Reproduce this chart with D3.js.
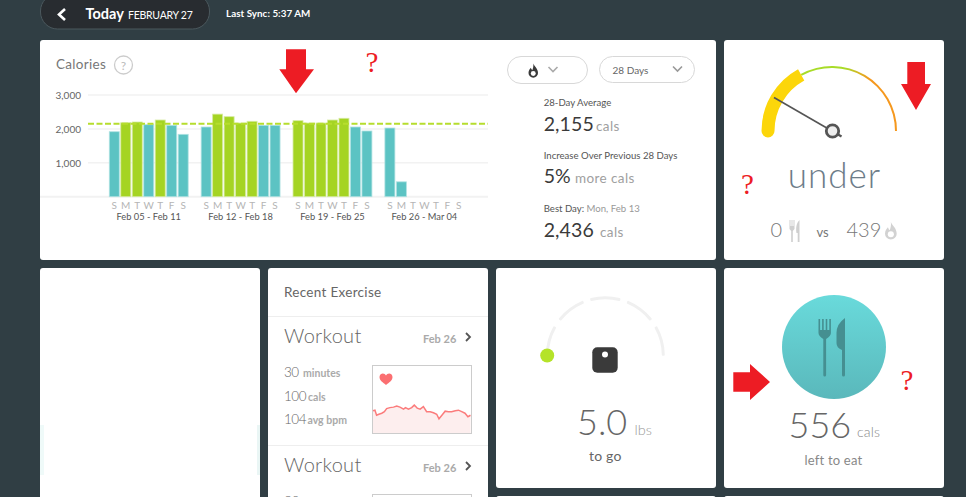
<!DOCTYPE html>
<html><head><meta charset="utf-8">
<script src="https://cdn.jsdelivr.net/npm/d3@7"></script>
<style>
html,body{margin:0;padding:0;background:#303e44;overflow:hidden}
svg{display:block}
text{font-family:Lato,"Open Sans",sans-serif}
</style></head><body>
<svg id="c" width="966" height="497"></svg>
<script>
// ---------- data ----------
const weekLabels = ["Feb 05 - Feb 11","Feb 12 - Feb 18","Feb 19 - Feb 25","Feb 26 - Mar 04"];
const dayLetters = ["S","M","T","W","T","F","S"];
const week1 = [1917,2183,2203,2124,2262,2105,1840];
const week2 = [2056,2436,2360,2174,2224,2105,2105];
const week3 = [2242,2174,2174,2262,2313,2056,1938];
const week4 = [2026,439];
const calorieWeeks = [week1,week2,week3,week4];
const averageCalories = 2155;
const yTicks = [0,1000,2000,3000];
const hrMinutes = [0,0.6,1.1,1.8,2.7,3.5,4.2,5.2,6.3,7.3,8.3,9.4,10,10.9,11.9,12.7,13.6,14.5,15.5,16.5,17.6,18.6,19.6,20.3,21.2,22.2,23.2,24.2,25.3,26.3,27.3,28.3,29.2,30];
const hrBpm = [104,105,95,97,99,102,108,110,111,113,111,107,110,107,110,115,109,107,112,102,102,100,97,88,95,103,102,102,104,105,102,99,92,95];
const gaugeUnder = 0.34, gaugeNeedle = 0.1667;
const weightSegments = [[-90,-60],[-52,-22],[-15,15],[22,52],[60,90]];

const svg = d3.select("#c");
const RED="#ed1c24";
function T(x,y,s,size,color,opt={}){
  const t=svg.append("text").attr("x",x).attr("y",y).text(s)
    .attr("font-size",size).attr("fill",color)
    .attr("font-weight",opt.w||400).attr("text-anchor",opt.a||"start");
  if(opt.ls!=null)t.attr("letter-spacing",opt.ls);
  if(opt.f)t.style("font-family",opt.f);
  return t;
}
const defs=svg.append("defs");
const pg=defs.append("linearGradient").attr("id","plate").attr("x1",0).attr("x2",0).attr("y1",0).attr("y2",1);
pg.append("stop").attr("offset","0").attr("stop-color","#69dadb");
pg.append("stop").attr("offset","1").attr("stop-color","#5ab8bb");
const gg=defs.append("linearGradient").attr("id","gg").attr("gradientUnits","userSpaceOnUse").attr("x1",-30).attr("x2",64).attr("y1",0).attr("y2",0);
gg.append("stop").attr("offset","0.45").attr("stop-color","#a8dc28");
gg.append("stop").attr("offset","0.72").attr("stop-color","#f5981e");

// ---------- cards ----------
[[40,40,676,220],[724,40,220,220],[40,268,220,240],[268,268,220,240],[496,268,220,220],[724,268,220,220],[496,496,220,20],[724,496,220,20]]
 .forEach(([x,y,w,h])=>svg.append("rect").attr("x",x).attr("y",y).attr("width",w).attr("height",h).attr("rx",3).attr("fill","#fff"));
svg.append("rect").attr("x",40).attr("y",425).attr("width",4).attr("height",50).attr("fill","#effaf9");
svg.append("rect").attr("x",257).attr("y",425).attr("width",3).attr("height",50).attr("fill","#eaf6f5");

// ---------- header ----------
svg.append("rect").attr("x",40.5).attr("y",-6).attr("width",169).attr("height",35).attr("rx",17).attr("fill","#282c30").attr("stroke","#4b585d");
svg.append("path").attr("d","M65,9 L59,14.5 L65,20").attr("fill","none").attr("stroke","#fff").attr("stroke-width",2.6);
T(85.5,19,"Today",14.5,"#fff",{w:700});
T(128,19,"FEBRUARY 27",10.5,"#fff",{ls:-0.25});
T(226,17,"Last Sync: 5:37 AM",9.8,"#fff",{w:700,ls:0.05});

// ---------- calories chart ----------
T(56,69,"Calories",13.5,"#777",{ls:0.3});
svg.append("circle").attr("cx",123.5).attr("cy",65).attr("r",9).attr("fill","none").attr("stroke","#ccc").attr("stroke-width",1.3);
T(123.5,69.5,"?",12,"#bbb",{a:"middle"});

const y=d3.scaleLinear().domain([0,3000]).range([196.7,95]);
const slots=d3.range(31);
const x=d3.scaleBand().domain(slots).range([108.6,108.6+31*11.48]).paddingInner(0.13).paddingOuter(0.06);
const slotOf=(w,d)=>w*8+d;

const yAxis=d3.axisLeft(y).tickValues(yTicks).tickSize(0).tickFormat(d=>d?d3.format(",")(d):"");
const gy=svg.append("g").attr("transform","translate(81,0)").call(yAxis);
gy.select(".domain").remove();
gy.selectAll("text").attr("x",0).attr("dy","0.36em").attr("font-size",10).attr("fill","#666").style("font-family","Lato");
svg.append("g").selectAll("line").data(yTicks).join("line")
 .attr("x1",d=>d===0?40:88).attr("x2",488).attr("y1",d=>y(d)).attr("y2",d=>y(d))
 .attr("stroke","#f2f2f2").attr("stroke-width",d=>d===0?2:1.5);

const bars=calorieWeeks.flatMap((vals,w)=>vals.map((v,d)=>({w,d,v})));
svg.append("g").selectAll("rect").data(bars).join("rect")
 .attr("x",d=>x(slotOf(d.w,d.d))).attr("width",x.bandwidth())
 .attr("y",d=>y(d.v)).attr("height",d=>y(0)-y(d.v))
 .attr("fill",d=>d.v>=averageCalories?"#a5d423":"#5cc3c3")
 .attr("stroke",d=>d.v>=averageCalories?"#d5eaa0":"#b0e2e2").attr("stroke-width",0.8);

svg.append("line").attr("x1",88).attr("x2",488).attr("y1",y(averageCalories)).attr("y2",y(averageCalories))
 .attr("stroke","#b6dd2e").attr("stroke-width",2).attr("stroke-dasharray","6 2.5");

weekLabels.forEach((lab,w)=>{
  dayLetters.forEach((l,d)=>{
    T(x(slotOf(w,d))+x.bandwidth()/2,208.5,l,10,"#b5b5b5",{a:"middle"});
  });
  T(x(slotOf(w,3))+x.bandwidth()/2,219.5,lab,9.3,"#555",{a:"middle"});
});

// ---------- dropdowns ----------
const pill=(x0,y0,w,h)=>svg.append("rect").attr("x",x0).attr("y",y0).attr("width",w).attr("height",h).attr("rx",h/2).attr("fill","#fff").attr("stroke","#d8d8d8");
pill(507.5,56.5,80,27); pill(599.5,56.5,95,26);
const chev=(cx,cy,col)=>svg.append("path").attr("d",`M${cx-4.5},${cy-2.5} L${cx},${cy+2} L${cx+4.5},${cy-2.5}`).attr("fill","none").attr("stroke",col).attr("stroke-width",1.6);
chev(553,69.5,"#aaa"); chev(677.5,69,"#999");
const flame="M5,0 C6,3 10,5 10,10 A5,5 0 0 1 0,10 C0,7 1.5,6 2.5,4.5 C3,6 3.4,6.5 4,7 C4.8,5 5.4,3 5,0 Z";
function flameIcon(tx,ty,s,col){
  const g=svg.append("g").attr("transform",`translate(${tx},${ty}) scale(${s})`);
  g.append("path").attr("d",flame).attr("fill",col);
  g.append("circle").attr("cx",5).attr("cy",10.5).attr("r",2.6).attr("fill","#fff");
}
flameIcon(528.5,63.5,0.95,"#3a3a3a");
T(612.5,74,"28 Days",10,"#666");

// ---------- stats ----------
function stat(lbl,lbl2,big,unit,yl,yb,ux){
  const t=T(543.7,yl,lbl,9.6,"#555");
  if(lbl2)t.append("tspan").attr("fill","#999").text(lbl2);
  T(543.7,yb,big,19.5,"#3a3a3a",{w:400,ls:0.1});
  T(ux,yb,unit,13.5,"#a0a0a0",{ls:0.4});
}
stat("28-Day Average","","2,155","cals",106,130.5,596);
stat("Increase Over Previous 28 Days","","5%","more cals",158.5,183,575);
stat("Best Day: ","Mon, Feb 13","2,436","cals",211.5,236.5,600);

// ---------- calorie gauge ----------
const gcx=832,gcy=131,gr=64;
const ga=d3.scaleLinear().domain([0,1]).range([-Math.PI/2,Math.PI/2]);
const thin=d3.arc().innerRadius(gr-1).outerRadius(gr+1);
svg.append("path").attr("transform",`translate(${gcx},${gcy})`).attr("fill","url(#gg)")
 .attr("d",thin({startAngle:ga(gaugeUnder),endAngle:ga(1)}));
const centre=d3.arc().innerRadius(gr).outerRadius(gr);
const yellowD=centre({startAngle:ga(0),endAngle:ga(gaugeUnder)}).split("L")[0].replace(/Z$/,"");
svg.append("path").attr("transform",`translate(${gcx},${gcy})`).attr("fill","none").attr("stroke","#fcd60a")
 .attr("stroke-width",13).attr("stroke-linecap","round").attr("d",yellowD);
const nA=ga(gaugeNeedle);
svg.append("line").attr("x1",gcx).attr("y1",gcy).attr("x2",gcx+67*Math.sin(nA)).attr("y2",gcy-67*Math.cos(nA)).attr("stroke","#555").attr("stroke-width",1.6);
svg.append("line").attr("x1",gcx).attr("y1",gcy).attr("x2",gcx+11*Math.sin(nA+Math.PI)).attr("y2",gcy-11*Math.cos(nA+Math.PI)).attr("stroke","#555").attr("stroke-width",2.4);
svg.append("circle").attr("cx",gcx+0.5).attr("cy",gcy).attr("r",6.2).attr("fill","#eee").attr("stroke","#555").attr("stroke-width",2.8);

T(834.5,188,"under",35,"#6d7c88",{a:"middle",w:300,ls:1});
T(770.5,237,"0",20,"#777",{w:300});
const forkSmall=(x0,y0,col)=>{
  const g=svg.append("g").attr("fill",col);
  g.append("path").attr("d",`M${x0},${y0} h1 v6 h1 v-6 h1 v6 h1 v-6 h1 v9 l-1.7,2 v11 h-1.6 v-11 l-1.7,-2 Z`);
  g.append("path").attr("d",`M${x0+10},${y0} v22 h-1.8 v-9 h-1.2 c-1,-5 0,-10 3,-13 Z`);
};
forkSmall(789.5,220,"#cfcfcf");
T(816.5,237,"vs",13,"#777");
T(846.5,237,"439",20,"#777",{w:300});
flameIcon(885,222,1.17,"#d2d2d2");

// ---------- recent exercise ----------
T(284,296.5,"Recent Exercise",13.5,"#666",{ls:0.3});
const rule=yy=>svg.append("line").attr("x1",268).attr("x2",488).attr("y1",yy).attr("y2",yy).attr("stroke","#eee");
rule(316.5); rule(445.5);
[342.5,471.5].forEach(b=>{
  T(284,b,"Workout",20,"#666",{w:300,ls:0.3});
  T(423,b,"Feb 26",11,"#aaa",{w:700});
  svg.append("path").attr("d",`M466,${b-9.5} L470,${b-5.5} L466,${b-1.5}`).attr("fill","none").attr("stroke","#555").attr("stroke-width",1.8);
});
[[376.5,"30","minutes",303],[400.5,"100","cals",308],[423.5,"104","avg bpm",307.5]].forEach(([b,n,u,ux])=>{
  T(284,b,n,13.5,"#666",{w:300,ls:-0.5});
  T(ux,b,u,10.5,"#aaa",{w:700});
});
const bx=372.5,bw=99,by=365.5,bh=68;
svg.append("rect").attr("x",bx).attr("y",by).attr("width",bw).attr("height",bh).attr("fill","#fff").attr("stroke","#ccc");
const hx=d3.scaleLinear().domain([0,30]).range([373,470.5]);
const hy=d3.scaleLinear().domain([60,194]).range([433,365]);
svg.append("path").attr("d",d3.area().x((d,i)=>hx(hrMinutes[i])).y0(hy(60)).y1(d=>hy(d))(hrBpm)).attr("fill","#fdeeee");
svg.append("path").attr("d",d3.line().x((d,i)=>hx(hrMinutes[i])).y(d=>hy(d))(hrBpm)).attr("fill","none").attr("stroke","#fb7c7c").attr("stroke-width",1.5);
svg.append("path").attr("transform","translate(386,379)").attr("fill","#fb6f71")
 .attr("d","M0,6 C-3,3.5 -6.5,1.5 -6.5,-2 C-6.5,-4.5 -4.5,-5.5 -3.2,-5.5 C-1.8,-5.5 -0.6,-4.6 0,-3.5 C0.6,-4.6 1.8,-5.5 3.2,-5.5 C4.5,-5.5 6.5,-4.5 6.5,-2 C6.5,1.5 3,3.5 0,6 Z");
T(284,505.5,"30",13.5,"#666",{w:300});
svg.append("rect").attr("x",bx).attr("y",494.5).attr("width",bw).attr("height",30).attr("fill","#fff").attr("stroke","#ccc");

// ---------- weight ----------
const wcx=605.3,wcy=355.7,wr=58;
const rad=d3.scaleLinear().domain([0,180]).range([0,Math.PI]);
svg.append("g").attr("transform",`translate(${wcx},${wcy})`).selectAll("path").data(weightSegments).join("path")
 .attr("fill","#f0f0f0")
 .attr("d",d=>d3.arc().innerRadius(wr-1.5).outerRadius(wr+1.5).cornerRadius(1)({startAngle:rad(d[0]),endAngle:rad(d[1])}));
svg.append("circle").attr("cx",547.2).attr("cy",355.5).attr("r",7).attr("fill","#b5e329");
svg.append("rect").attr("x",592.3).attr("y",347.3).attr("width",25.4).attr("height",25.4).attr("rx",5).attr("fill","#3a3a3a");
svg.append("circle").attr("cx",605).attr("cy",354.5).attr("r",3).attr("fill","#fff");
T(577,435,"5.0",36,"#666",{w:300});
T(634.5,435,"lbs",14.5,"#999",{w:300});
T(589,461,"to go",14,"#666",{ls:0.2});

// ---------- food plan ----------
svg.append("circle").attr("cx",834).attr("cy",347).attr("r",52).attr("fill","url(#plate)");
const ic=svg.append("g").attr("fill","#458f91");
ic.append("path").attr("d","M818.5,319 h1.6 v11 h2 v-11 h1.6 v11 h2 v-11 h1.6 v11 h2 v-11 h1.6 v14 q0,3 -4.8,6 v36 q0,1.5 -1.4,1.5 q-1.4,0 -1.4,-1.5 v-36 q-4.8,-3 -4.8,-6 Z");
ic.append("path").attr("d","M845,318 v57 q0,1.5 -1.5,1.5 q-1.5,0 -1.5,-1.5 v-25 q-5.5,-2 -5.5,-7 v-10 q0,-9 8.5,-15 Z");
T(788.5,437.5,"556",36,"#666",{w:300});
T(857,437,"cals",14,"#888",{w:300,ls:0.2});
T(804.5,465,"left to eat",13,"#888",{ls:0.2});

// ---------- annotations ----------
function downArrow(sx0,sx1,top,hy0,hx0,hx1,tipx,tipy){
  svg.append("path").attr("fill",RED).attr("d",`M${sx0},${top} H${sx1} V${hy0} H${hx1} L${tipx},${tipy} L${hx0},${hy0} H${sx0} Z`);
}
downArrow(286,306,49.3,69.3,279.3,314,296,93.3);
downArrow(907.3,925,62,84,901,931,916,110);
svg.append("path").attr("fill",RED).attr("d","M733.3,372.3 H750 V364 L770,382 L750,400 V391.7 H733.3 Z");
[[372,71.5],[747.5,194],[907,389.5]].forEach(([qx,qy])=>T(qx,qy,"?",29,RED,{a:"middle",f:"'Liberation Serif',serif"}));
</script></body></html>
